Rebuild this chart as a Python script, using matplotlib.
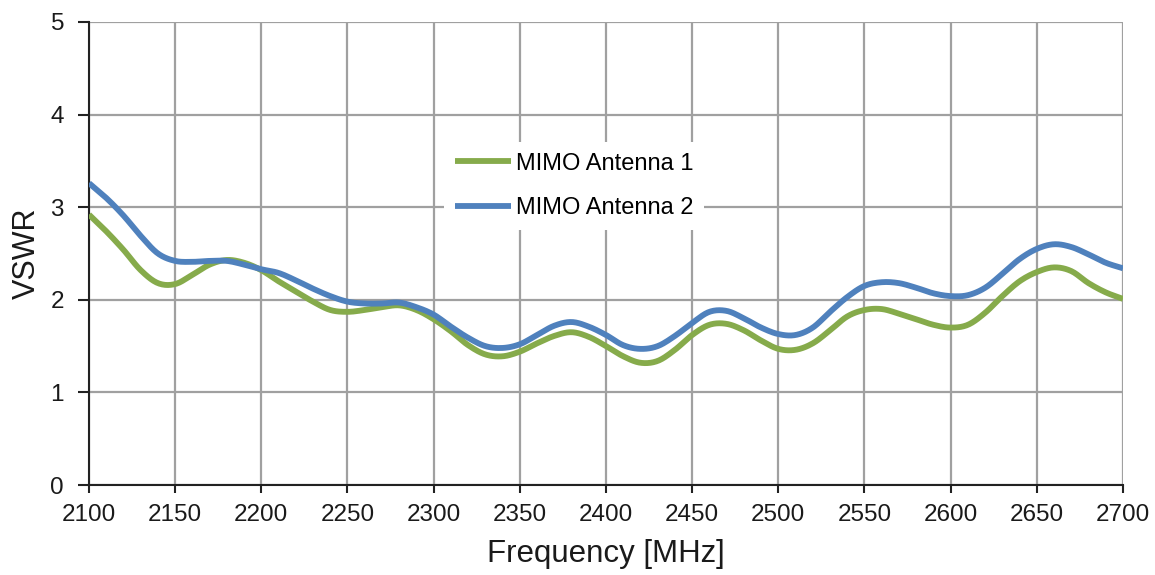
import matplotlib
matplotlib.use("Agg")
import matplotlib.pyplot as plt
import numpy as np

plt.rcParams['font.family'] = ['Liberation Sans', 'DejaVu Sans']

freq = list(range(2100, 2701, 10))

antenna1 = [2.92, 2.74, 2.54, 2.32, 2.18, 2.17, 2.27, 2.38, 2.43, 2.40,
            2.32, 2.20, 2.09, 1.98, 1.89, 1.87, 1.89, 1.92, 1.94, 1.89,
            1.79, 1.66, 1.51, 1.41, 1.39, 1.44, 1.53, 1.61, 1.65, 1.60,
            1.50, 1.39, 1.32, 1.34, 1.46, 1.62, 1.73, 1.74, 1.67, 1.56,
            1.47, 1.46, 1.53, 1.67, 1.82, 1.89, 1.90, 1.85, 1.79, 1.73,
            1.70, 1.73, 1.86, 2.04, 2.20, 2.30, 2.35, 2.31, 2.18, 2.08,
            2.01]

antenna2 = [3.26, 3.10, 2.91, 2.69, 2.50, 2.42, 2.41, 2.42, 2.42, 2.38,
            2.33, 2.29, 2.21, 2.12, 2.04, 1.98, 1.96, 1.96, 1.97, 1.92,
            1.84, 1.71, 1.59, 1.50, 1.48, 1.52, 1.62, 1.72, 1.76, 1.71,
            1.62, 1.51, 1.47, 1.50, 1.61, 1.75, 1.87, 1.88, 1.80, 1.70,
            1.63, 1.62, 1.70, 1.87, 2.03, 2.15, 2.19, 2.18, 2.13, 2.07,
            2.04, 2.05, 2.13, 2.28, 2.44, 2.55, 2.60, 2.57, 2.49, 2.40,
            2.34]

labels = ["MIMO Antenna 1", "MIMO Antenna 2"]
x_ticks = list(range(2100, 2701, 50))
y_ticks = [0, 1, 2, 3, 4, 5]


def smooth_path(x, y, n=12):
    """Render a smoothed (Catmull-Rom) line through the given points,
    like a spreadsheet's 'smoothed line' option."""
    x = np.asarray(x, float)
    y = np.asarray(y, float)
    xp = np.concatenate([[2 * x[0] - x[1]], x, [2 * x[-1] - x[-2]]])
    yp = np.concatenate([[2 * y[0] - y[1]], y, [2 * y[-1] - y[-2]]])
    t = np.linspace(0, 1, n, endpoint=False)
    xs, ys = [], []
    for i in range(1, len(xp) - 2):
        p0, p1, p2, p3 = yp[i - 1], yp[i], yp[i + 1], yp[i + 2]
        q0, q1, q2, q3 = xp[i - 1], xp[i], xp[i + 1], xp[i + 2]
        for (a0, a1, a2, a3, out) in ((p0, p1, p2, p3, ys), (q0, q1, q2, q3, xs)):
            out.extend(0.5 * ((2 * a1) + (-a0 + a2) * t
                              + (2 * a0 - 5 * a1 + 4 * a2 - a3) * t ** 2
                              + (-a0 + 3 * a1 - 3 * a2 + a3) * t ** 3))
    xs.append(x[-1])
    ys.append(y[-1])
    return np.array(xs), np.array(ys)


fig = plt.figure(figsize=(11.55, 5.75), dpi=100)
ax = fig.add_axes([89/1155, 1-485/575, (1123-89)/1155, (485-22)/575])

sx1, sy1 = smooth_path(freq, antenna1)
sx2, sy2 = smooth_path(freq, antenna2)
ax.plot(sx1, sy1, color='#86AB4B', lw=4.2, label=labels[0],
        solid_capstyle='butt', zorder=3)
ax.plot(sx2, sy2, color='#4F81BD', lw=4.2, label=labels[1],
        solid_capstyle='butt', zorder=3)

ax.set_xlim(2100, 2700)
ax.set_ylim(0, 5)
ax.set_xticks(x_ticks)
ax.set_yticks(y_ticks)
ax.grid(True, color='#A0A0A0', lw=1.6)
ax.set_axisbelow(True)
for s in ['top', 'right']:
    ax.spines[s].set_visible(False)
for s in ['left', 'bottom']:
    ax.spines[s].set_color('#222222')
    ax.spines[s].set_linewidth(1.5)
ax.tick_params(axis='both', direction='out', width=1.5,
               color='#222222', labelsize=17.5, labelcolor='#1a1a1a')
ax.tick_params(axis='y', length=8, pad=10)
ax.tick_params(axis='x', length=6, pad=8)

ax.set_xlabel("Frequency [MHz]", fontsize=22.5, color='#1a1a1a', labelpad=9)
ax.set_ylabel("VSWR", fontsize=22, color='#1a1a1a', labelpad=6)

leg = ax.legend(loc='upper left',
                bbox_to_anchor=(444/1155, 1-142/575),
                bbox_transform=fig.transFigure,
                fontsize=17, frameon=True, fancybox=False,
                framealpha=1, edgecolor='none', facecolor='white',
                handlelength=2.4, handletextpad=0.2, labelspacing=0.95,
                borderpad=0.45, borderaxespad=0)
leg.set_zorder(5)

fig.savefig("out.png", dpi=100)
